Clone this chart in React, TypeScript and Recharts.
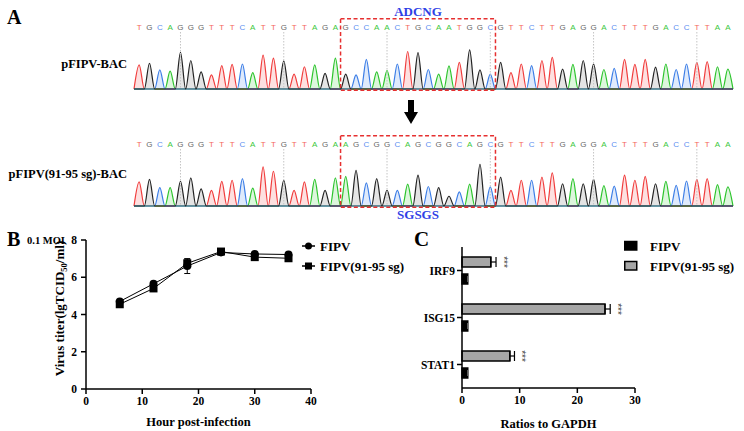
import React from "react";
import {
  AreaChart, Area, XAxis, YAxis, ReferenceArea, ReferenceLine,
  LineChart, Line, ErrorBar, BarChart, Bar, LabelList, Legend,
} from "recharts";

const SERIF = '"Liberation Serif", "Times New Roman", serif';
const SANS = '"Liberation Sans", Arial, sans-serif';

// ---- Panel A: sequencing traces ----
const seqWT = "TGCAGGGTTTCATTGTTAGAGCCAACTGCAATGGCGTTCTTGAGGACTTTGACCTTAA".split("");
const peaksWT = [
  0.62, 0.66, 0.49, 0.46, 0.94, 0.73, 0.44, 0.36, 0.6, 0.63,
  0.64, 0.42, 0.87, 0.79, 0.72, 0.38, 0.57, 0.62, 0.4, 0.79,
  0.38, 0.36, 0.76, 0.44, 0.47, 0.64, 0.96, 0.93, 0.5, 0.38,
  0.59, 0.68, 1.0, 0.49, 0.38, 0.68, 0.42, 0.64, 0.6, 0.73,
  0.81, 0.51, 0.63, 0.73, 0.64, 0.5, 0.53, 0.76, 0.63, 0.76,
  0.56, 0.64, 0.5, 0.64, 0.68, 0.7, 0.57, 0.51,
];
const seqSG = "TGCAGGGTTTCATTGTTAGAAGCGGCAGCGGCAGCGTTCTTGAGGACTTTGACCTTAA".split("");
const peaksSG = [
  0.62, 0.68, 0.47, 0.47, 0.63, 0.72, 0.44, 0.4, 0.63, 0.66,
  0.7, 0.46, 1.0, 0.89, 0.66, 0.4, 0.62, 0.68, 0.4, 0.72,
  0.76, 0.91, 0.59, 0.7, 0.4, 0.4, 0.56, 0.79, 0.5, 0.47,
  0.25, 0.36, 0.56, 1.07, 0.49, 0.74, 0.4, 0.66, 0.66, 0.74,
  0.85, 0.57, 0.7, 0.57, 0.68, 0.52, 0.51, 0.79, 0.66, 0.76,
  0.57, 0.63, 0.53, 0.64, 0.68, 0.7, 0.55, 0.49,
];
const tenthBases = [4, 14, 24, 34, 44, 54];
const boxFrom = 19.5, boxTo = 34.5;

// ---- Panel B: growth curve ----
const hours = [6, 12, 18, 24, 30, 36];
const titerWT = [4.7, 5.65, 6.6, 7.33, 7.25, 7.22];
const titerWTsd = [0.08, 0.08, 0.4, 0.05, 0.06, 0.05];
const titerSG = [4.55, 5.4, 6.75, 7.38, 7.08, 7.02];
const titerSGsd = [0.07, 0.08, 0.22, 0.05, 0.05, 0.05];
const seriesNames = ["FIPV", "FIPV(91-95 sg)"];

// ---- Panel C: ISG expression ----
const genes = ["IRF9", "ISG15", "STAT1"];
const ratioWT = [1.0, 1.0, 1.0];
const ratioWTsd = [0.12, 0.1, 0.12];
const ratioSG = [5.0, 24.8, 8.3];
const ratioSGsd = [0.9, 0.9, 0.8];

const BASE_STROKE: Record<string, string> = { A: "#2cc42c", C: "#3b7de6", G: "#222222", T: "#f03c3c" };
const BASE_FILL: Record<string, string> = { A: "#2cc42c", C: "#3b7de6", G: "#555555", T: "#f03c3c" };
const BASE_TEXT: Record<string, string> = { A: "#3cc83c", C: "#5b8ef0", G: "#666666", T: "#f4665c" };
const TAG_BLUE = "#2f3fe6";
const BOX_RED = "#e63030";

function traceRows(seq: string[], peaks: number[]) {
  const zero = { A: 0, C: 0, G: 0, T: 0 };
  const rows: any[] = [{ x: -0.5, ...zero }];
  seq.forEach((b, i) => {
    rows.push({ x: i, ...zero, [b]: peaks[i] });
    rows.push({ x: i + 0.5, ...zero });
  });
  return rows;
}

function Trace({ seq, peaks, top, tag, tagPos }:
  { seq: string[]; peaks: number[]; top: number; tag: string; tagPos: "top" | "bottom" }) {
  const rows = traceRows(seq, peaks);
  const idx = seq.map((_, i) => i);
  return (
    <div style={{ position: "absolute", left: 0, top }}>
      <AreaChart width={744} height={112} data={rows}
        margin={{ top: 0, right: 11, bottom: 23, left: 134 }}>
        <XAxis type="number" dataKey="x" orientation="top" domain={[-0.5, 57.5]}
          ticks={idx} interval={0} height={32} axisLine={false} tickLine={false}
          tickSize={0} tickMargin={2}
          tick={(p: any) => (
            <text key={p.index} x={p.x} y={p.y} textAnchor="middle" fontSize={8}
              fontFamily={SANS} fill={BASE_TEXT[seq[p.payload.value]]}>
              {seq[p.payload.value]}
            </text>
          )} />
        <YAxis hide domain={[0, 1.46]} />
        {tenthBases.map((m) => (
          <ReferenceLine key={m} x={m} stroke="#c4c4c4" strokeDasharray="1.5 1.5" />
        ))}
        {["T", "A", "C", "G"].map((b) => (
          <Area key={b} type="monotone" dataKey={b} stroke={BASE_STROKE[b]}
            fill={BASE_FILL[b]} fillOpacity={0.16} strokeWidth={1.2}
            dot={false} activeDot={false} isAnimationActive={false} />
        ))}
        <ReferenceArea x1={boxFrom} x2={boxTo} y1={-0.03} y2={1.8} ifOverflow="visible"
          stroke={BOX_RED} strokeWidth={1.5} strokeDasharray="4 2.5" fill="none" fillOpacity={0}
          label={{ value: tag, position: tagPos, offset: 3, fill: TAG_BLUE, fontSize: 13,
            fontWeight: "bold", fontFamily: SERIF }} />
      </AreaChart>
    </div>
  );
}

const axisStyle = { stroke: "#000", strokeWidth: 1.5 };
const tickFont = { fill: "#000", fontSize: 11.5, fontWeight: "bold", fontFamily: SERIF };

function GrowthChart() {
  const rows = hours.map((h, i) => ({
    hour: h, wt: titerWT[i], wtSd: titerWTsd[i], sg: titerSG[i], sgSd: titerSGsd[i],
  }));
  const legend = () => (
    <svg width={120} height={40}>
      {seriesNames.map((n, i) => (
        <g key={n} transform={`translate(0, ${i * 20})`}>
          <line x1={0} x2={13} y1={6} y2={6} stroke="#000" strokeWidth={1.5} />
          {i === 0
            ? <circle cx={6.5} cy={6} r={3.5} fill="#000" />
            : <rect x={3} y={2.5} width={7} height={7} fill="#000" />}
          <text x={18} y={10.5} fontSize={13} fontWeight="bold" fontFamily={SERIF}>{n}</text>
        </g>
      ))}
    </svg>
  );
  return (
    <div style={{ position: "absolute", left: 0, top: 225 }}>
      <LineChart width={415} height={206} data={rows}
        margin={{ top: 15, right: 104, bottom: 0, left: 60 }}>
        <XAxis type="number" dataKey="hour" domain={[0, 40]} ticks={[0, 10, 20, 30, 40]}
          height={42} axisLine={axisStyle} tickLine={axisStyle} tickSize={5} tickMargin={3}
          tick={tickFont}
          label={{ value: "Hour post-infection", position: "insideBottom", offset: 5,
            fill: "#000", fontSize: 12.5, fontWeight: "bold", fontFamily: SERIF }} />
        <YAxis type="number" domain={[0, 8]} ticks={[0, 2, 4, 6, 8]} width={26}
          axisLine={axisStyle} tickLine={axisStyle} tickSize={5} tickMargin={4}
          tick={tickFont}
          label={{
            content: (p: any) => {
              const vb = p.viewBox;
              const cy = vb.y + vb.height / 2 - 6;
              return (
                <text transform={`translate(${vb.x + 4}, ${cy}) rotate(-90)`} textAnchor="middle"
                  fontSize={13} fontWeight="bold" fontFamily={SERIF} fill="#000">
                  Virus titer(lgTCID<tspan fontSize={8.5} dy={3}>50</tspan>
                  <tspan dy={-3}>/ml)</tspan>
                </text>
              );
            },
          }} />
        <Legend layout="vertical" align="center" verticalAlign="middle" content={legend}
          wrapperStyle={{ position: "absolute", left: 302, top: 15, width: 120, height: 40 }} />
        <Line dataKey="wt" stroke="#000" strokeWidth={1} isAnimationActive={false}
          dot={(p: any) => <circle key={p.index} cx={p.cx} cy={p.cy} r={4} fill="#000" />}
          activeDot={false}>
          <ErrorBar dataKey="wtSd" direction="y" width={3} stroke="#000" strokeWidth={1} />
        </Line>
        <Line dataKey="sg" stroke="#000" strokeWidth={1} isAnimationActive={false}
          dot={(p: any) => <rect key={p.index} x={p.cx - 4} y={p.cy - 4} width={8} height={8} fill="#000" />}
          activeDot={false}>
          <ErrorBar dataKey="sgSd" direction="y" width={3} stroke="#000" strokeWidth={1} />
        </Line>
      </LineChart>
    </div>
  );
}

function RatioChart() {
  const rows = genes.map((g, i) => ({
    gene: g, wt: ratioWT[i], wtErr: [0, ratioWTsd[i]], sg: ratioSG[i], sgErr: [0, ratioSGsd[i]],
  }));
  const stars = (p: any) => {
    const { x, y, width, height, index } = p;
    const errPx = (width * ratioSGsd[index]) / ratioSG[index];
    const sx = x + width + errPx + 7;
    const sy = y + height / 2;
    return (
      <text key={index} transform={`translate(${sx}, ${sy}) rotate(90)`} textAnchor="middle"
        dominantBaseline="central" fontSize={10} fill="#444" fontFamily={SANS}>***</text>
    );
  };
  const legend = () => (
    <svg width={130} height={40}>
      {seriesNames.map((n, i) => (
        <g key={n} transform={`translate(0, ${i * 20})`}>
          <rect x={0.75} y={1.5} width={12} height={8.5} fill={i === 0 ? "#000" : "#a6a6a6"}
            stroke="#000" strokeWidth={1.5} />
          <text x={26} y={10.5} fontSize={13} fontWeight="bold" fontFamily={SERIF}>{n}</text>
        </g>
      ))}
    </svg>
  );
  return (
    <div style={{ position: "absolute", left: 380, top: 225 }}>
      <BarChart layout="vertical" width={364} height={206} data={rows} barSize={10} barGap={7}
        margin={{ top: 22, right: 109, bottom: 0, left: 32 }}>
        <XAxis type="number" domain={[0, 30]} ticks={[0, 10, 20, 30]} height={43}
          axisLine={axisStyle} tickLine={axisStyle} tickSize={5} tickMargin={3} tick={tickFont}
          label={{ value: "Ratios to GAPDH", position: "insideBottom", offset: 3,
            fill: "#000", fontSize: 12.5, fontWeight: "bold", fontFamily: SERIF }} />
        <YAxis type="category" dataKey="gene" width={50} axisLine={axisStyle} tickLine={axisStyle}
          tickSize={5} tickMargin={2} tick={tickFont} />
        <Legend layout="vertical" align="center" verticalAlign="middle" content={legend}
          wrapperStyle={{ position: "absolute", left: 244, top: 15, width: 130, height: 40 }} />
        <Bar dataKey="sg" fill="#a6a6a6" stroke="#000" strokeWidth={1.5} isAnimationActive={false}>
          <ErrorBar dataKey="sgErr" direction="x" width={5} stroke="#000" strokeWidth={1.2} />
          <LabelList dataKey="sg" content={stars} />
        </Bar>
        <Bar dataKey="wt" fill="#000" stroke="#000" strokeWidth={1.5} isAnimationActive={false}>
          <ErrorBar dataKey="wtErr" direction="x" width={3} stroke="#777" strokeWidth={1} />
        </Bar>
      </BarChart>
    </div>
  );
}

export default function App() {
  return (
    <div style={{ position: "absolute", left: 0, top: 0, width: 744, height: 431,
      background: "#fff", overflow: "hidden" }}>
      <Trace seq={seqWT} peaks={peaksWT} top={0} tag="ADCNG" tagPos="top" />
      <Trace seq={seqSG} peaks={peaksSG} top={117} tag="SGSGS" tagPos="bottom" />
      <GrowthChart />
      <RatioChart />
      <svg width={744} height={431} style={{ position: "absolute", left: 0, top: 0, pointerEvents: "none" }}
        fontFamily={SERIF} fontWeight="bold">
        <text x={7} y={23.5} fontSize={20}>A</text>
        <text x={127} y={67.5} fontSize={12.5} textAnchor="end">pFIPV-BAC</text>
        <text x={127} y={177.5} fontSize={12.5} textAnchor="end">pFIPV(91-95 sg)-BAC</text>
        <polygon points="408,100 414,100 414,112 418,112 411,124 404,112 408,112" fill="#000" />
        <text x={7} y={245.5} fontSize={20}>B</text>
        <text x={27} y={244} fontSize={10.5}>0.1 MOI</text>
        <text x={414} y={245.5} fontSize={21}>C</text>
      </svg>
    </div>
  );
}
